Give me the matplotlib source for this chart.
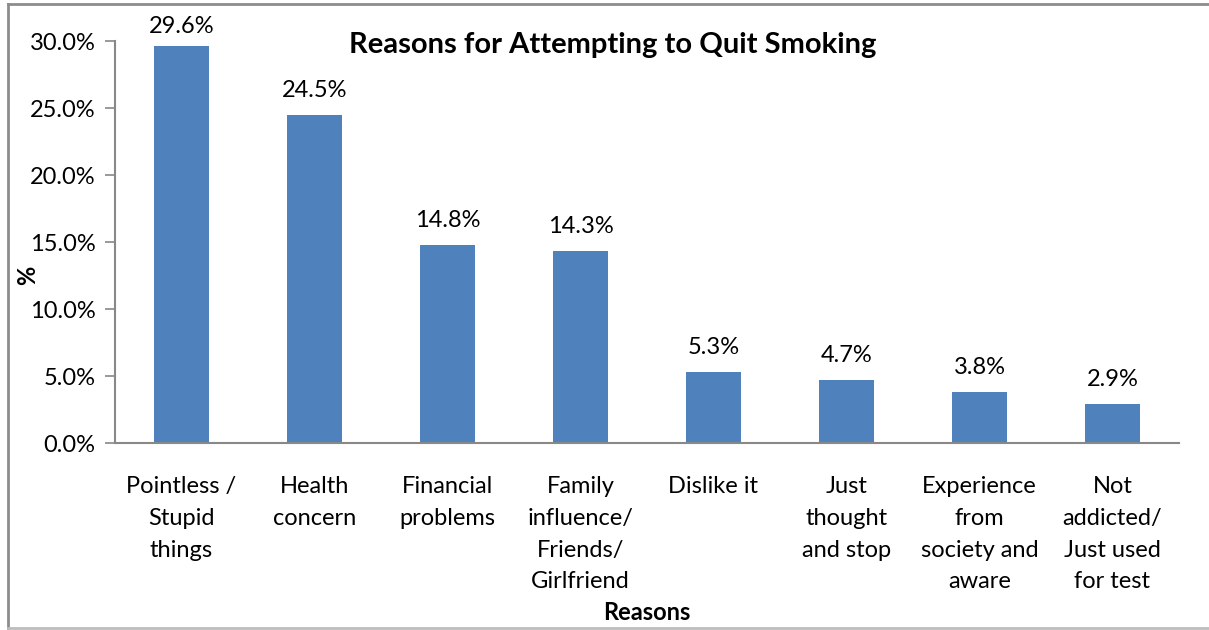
import matplotlib
matplotlib.use("Agg")
import matplotlib.pyplot as plt
from matplotlib.lines import Line2D
from matplotlib.ticker import FuncFormatter, MultipleLocator

categories = [
    "Pointless /\nStupid\nthings",
    "Health\nconcern",
    "Financial\nproblems",
    "Family\ninfluence/\nFriends/\nGirlfriend",
    "Dislike it",
    "Just\nthought\nand stop",
    "Experience\nfrom\nsociety and\naware",
    "Not\naddicted/\nJust used\nfor test",
]
values = [29.6, 24.5, 14.8, 14.3, 5.3, 4.7, 3.8, 2.9]

plt.rcParams["font.family"] = ["Lato", "DejaVu Sans"]

W, H, DPI = 1209, 630, 100
fig = plt.figure(figsize=(W / DPI, H / DPI), dpi=DPI)

# plot area in pixel coordinates
left, right, top, bottom = 115, 1179, 41, 443
ax = fig.add_axes([left / W, 1 - bottom / H, (right - left) / W, (bottom - top) / H])

bar_color = "#4F81BD"
x = range(len(values))
ax.bar(x, values, width=0.41, color=bar_color, zorder=2)

ymax = 30
px_per_unit = (bottom - top) / ymax
for xi, v in zip(x, values):
    # keep labels of tall bars from rising too far above the plot area
    bar_top_px = bottom - v * px_per_unit
    gap_px = min(14, bar_top_px - 37)
    ax.annotate(f"{v:.1f}%", (xi, v), xytext=(0, gap_px * 72 / DPI),
                textcoords="offset points", ha="center", va="bottom",
                fontsize=17, color="black")

ax.set_xlim(-0.5, len(values) - 0.5)
ax.set_ylim(0, ymax)
ax.yaxis.set_major_locator(MultipleLocator(5))
ax.yaxis.set_major_formatter(FuncFormatter(lambda v, p: f"{v:.1f}%"))

ax.set_xticks(list(x))
ax.set_xticklabels(categories, fontsize=17, linespacing=1.63, va="top")
ax.tick_params(axis="x", length=0, pad=24)
ax.tick_params(axis="y", length=7, width=1.2, color="#888888", labelsize=17, pad=7)

for s in ("top", "right"):
    ax.spines[s].set_visible(False)
for s in ("left", "bottom"):
    ax.spines[s].set_color("#888888")
    ax.spines[s].set_linewidth(1.5)

fig.text(613 / W, 1 - 45 / H, "Reasons for Attempting to Quit Smoking",
         ha="center", va="center", fontsize=21, fontweight="bold")
fig.text(647 / W, 1 - 612 / H, "Reasons", ha="center", va="center",
         fontsize=17, fontweight="bold")
fig.text(28 / W, 1 - 275 / H, "%", ha="center", va="center", rotation=90,
         fontsize=17, fontweight="bold")

# outer chart frame (left, top, bottom edges)
frame_kw = dict(transform=fig.transFigure, color="#8c8c8c", linewidth=2)
fig.add_artist(Line2D([8 / W, 8 / W], [1 - 4 / H, 1 - 628 / H], **frame_kw))
fig.add_artist(Line2D([8 / W, 1.0], [1 - 4 / H, 1 - 4 / H], **frame_kw))
fig.add_artist(Line2D([8 / W, 1.0], [1 - 628 / H, 1 - 628 / H], color="#bdbdbd",
                      linewidth=2, transform=fig.transFigure))

fig.savefig("out.png", dpi=DPI)
